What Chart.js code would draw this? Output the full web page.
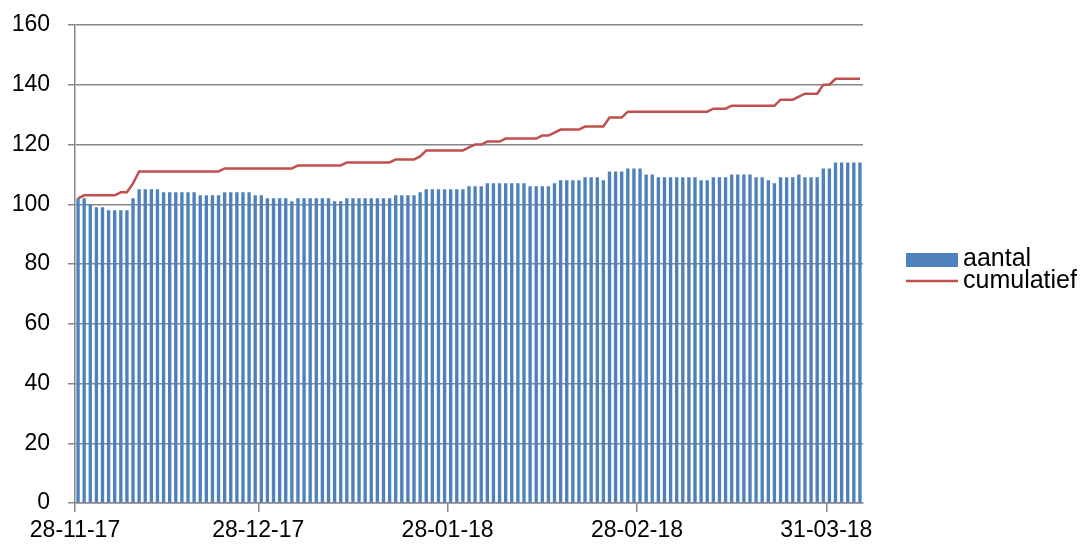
<!DOCTYPE html>
<html>
<head>
<meta charset="utf-8">
<script src="https://cdn.jsdelivr.net/npm/chart.js@4.4.0/dist/chart.umd.min.js"></script>
<style>
  html, body { margin: 0; padding: 0; background: #fff; }
  #wrap { position: relative; width: 1081px; height: 548px; }
</style>
</head>
<body>
<div id="wrap"><canvas id="chart" width="1081" height="548"></canvas></div>
<script>
// one value per day, 28-11-17 up to 05-04-18
var aantal = [
  102, 102, 100, 99, 99, 98, 98, 98, 98, 102,
  105, 105, 105, 105, 104, 104, 104, 104, 104, 104,
  103, 103, 103, 103, 104, 104, 104, 104, 104, 103,
  103, 102, 102, 102, 102, 101, 102, 102, 102, 102,
  102, 102, 101, 101, 102, 102, 102, 102, 102, 102,
  102, 102, 103, 103, 103, 103, 104, 105, 105, 105,
  105, 105, 105, 105, 106, 106, 106, 107, 107, 107,
  107, 107, 107, 107, 106, 106, 106, 106, 107, 108,
  108, 108, 108, 109, 109, 109, 108, 111, 111, 111,
  112, 112, 112, 110, 110, 109, 109, 109, 109, 109,
  109, 109, 108, 108, 109, 109, 109, 110, 110, 110,
  110, 109, 109, 108, 107, 109, 109, 109, 110, 109,
  109, 109, 112, 112, 114, 114, 114, 114, 114
];

var cumulatief = [
  102, 103, 103, 103, 103, 103, 103, 104, 104, 107,
  111, 111, 111, 111, 111, 111, 111, 111, 111, 111,
  111, 111, 111, 111, 112, 112, 112, 112, 112, 112,
  112, 112, 112, 112, 112, 112, 113, 113, 113, 113,
  113, 113, 113, 113, 114, 114, 114, 114, 114, 114,
  114, 114, 115, 115, 115, 115, 116, 118, 118, 118,
  118, 118, 118, 118, 119, 120, 120, 121, 121, 121,
  122, 122, 122, 122, 122, 122, 123, 123, 124, 125,
  125, 125, 125, 126, 126, 126, 126, 129, 129, 129,
  131, 131, 131, 131, 131, 131, 131, 131, 131, 131,
  131, 131, 131, 131, 132, 132, 132, 133, 133, 133,
  133, 133, 133, 133, 133, 135, 135, 135, 136, 137,
  137, 137, 140, 140, 142, 142, 142, 142, 142
];

// day number (from 28-11-17) of each labelled tick
var tickDays = [0, 30, 61, 92, 123];
var tickLabels = ['28-11-17', '28-12-17', '28-01-18', '28-02-18', '31-03-18'];

var fontFamily = '"Liberation Sans", Arial, sans-serif';
var gridGrey = '#878787';

var barPoints = aantal.map(function (v, i) { return { x: i + 0.5, y: v }; });
var linePoints = cumulatief.map(function (v, i) { return { x: i + 0.5, y: v }; });

var sideLegend = {
  id: 'sideLegend',
  afterDraw: function (chart) {
    var c = chart.ctx;
    var ds = chart.data.datasets;
    c.save();
    c.font = '25px ' + fontFamily;
    c.textBaseline = 'middle';
    c.textAlign = 'left';
    c.fillStyle = ds[0].backgroundColor;
    c.fillRect(906, 253, 52, 14);
    c.fillStyle = '#000';
    c.fillText(ds[0].label, 963, 259);
    c.strokeStyle = ds[1].borderColor;
    c.lineWidth = 2.5;
    c.beginPath();
    c.moveTo(906, 281);
    c.lineTo(958, 281);
    c.stroke();
    c.fillText(ds[1].label, 963, 281);
    c.restore();
  }
};

var ctx = document.getElementById('chart').getContext('2d');
new Chart(ctx, {
  type: 'bar',
  data: {
    datasets: [
      {
        type: 'bar',
        label: 'aantal',
        data: barPoints,
        backgroundColor: '#4F81BD',
        borderWidth: 0,
        barPercentage: 0.55,
        categoryPercentage: 1,
        order: 1
      },
      {
        type: 'line',
        label: 'cumulatief',
        data: linePoints,
        borderColor: '#C0504D',
        borderWidth: 2.5,
        pointRadius: 0,
        fill: false,
        tension: 0,
        order: 0
      }
    ]
  },
  options: {
    responsive: false,
    animation: false,
    layout: { padding: { top: 25, right: 218, left: 0, bottom: 0 } },
    plugins: {
      legend: { display: false },
      tooltip: { enabled: false }
    },
    scales: {
      x: {
        type: 'linear',
        min: 0,
        max: 129,
        offset: false,
        afterBuildTicks: function (scale) {
          scale.ticks = tickDays.map(function (d) { return { value: d }; });
        },
        afterFit: function (scale) {
          scale.height = 45;
          scale.paddingLeft = 0;
          scale.paddingRight = 0;
        },
        ticks: {
          autoSkip: false,
          maxRotation: 0,
          padding: 5,
          color: '#000',
          font: { family: fontFamily, size: 23 },
          callback: function (value, index) { return tickLabels[index]; }
        },
        grid: { offset: false, drawOnChartArea: false, drawTicks: true, tickLength: 9, color: gridGrey, lineWidth: 1.5 },
        border: { color: gridGrey, width: 1.5 }
      },
      y: {
        min: 0,
        max: 160,
        afterFit: function (scale) {
          scale.width = 75;
          scale.paddingTop = 0;
          scale.paddingBottom = 0;
        },
        ticks: {
          stepSize: 20,
          padding: 18,
          color: '#000',
          font: { family: fontFamily, size: 23 }
        },
        grid: { color: gridGrey, lineWidth: 1.5, tickLength: 7 },
        border: { color: gridGrey, width: 1.5 }
      }
    }
  },
  plugins: [sideLegend]
});
</script>
</body>
</html>
